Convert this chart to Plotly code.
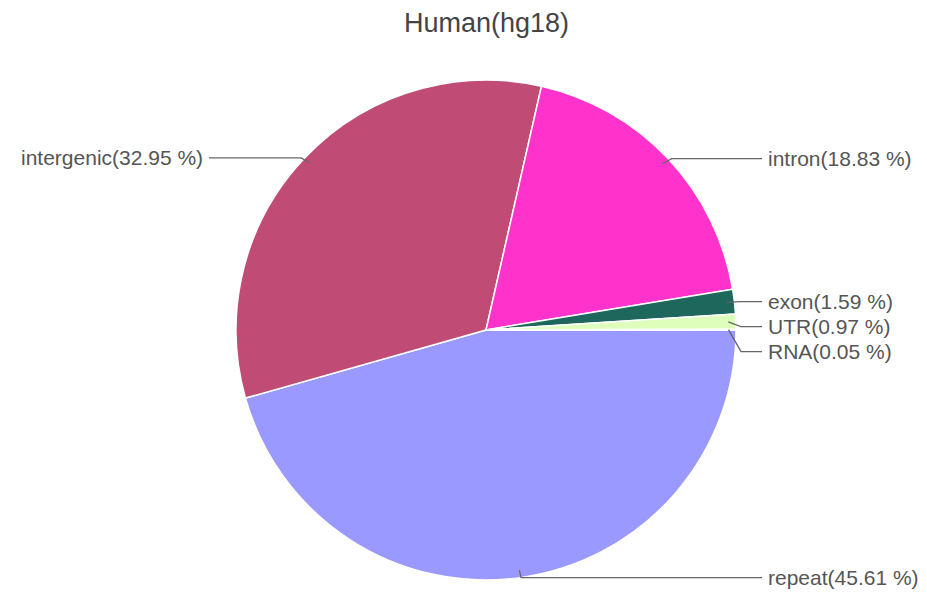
import numpy as np
import plotly.graph_objects as go

# ---- data ----
categories = ["repeat", "intergenic", "intron", "exon", "UTR", "RNA"]
percentages = [45.61, 32.95, 18.83, 1.59, 0.97, 0.05]
colors = ["#9999ff", "#c04c75", "#ff33cc", "#1d675c", "#ddffbb", "#99cc66"]
title_text = "Human(hg18)"

# ---- layout constants (pixels) ----
W, H = 927, 597
CX, CY, R = 486, 330, 250
RIGHT_LABEL_X = 766
LEFT_LABEL_X = 205
MIN_GAP = 25
FONT = "Liberation Sans, Arial, sans-serif"

def px(x):
    return x / W

def py(y):
    return 1 - y / H

fig = go.Figure()
fig.add_trace(go.Pie(
    labels=categories,
    values=percentages,
    sort=False,
    direction="clockwise",
    rotation=90,
    marker=dict(colors=colors, line=dict(color="white", width=1.5)),
    textinfo="none",
    hoverinfo="label+percent",
    showlegend=False,
    domain=dict(x=[px(CX - R), px(CX + R)], y=[py(CY + R), py(CY - R)]),
))

# compute mid-angles (clockwise from east, screen coords y down)
vals = np.array(percentages, dtype=float)
frac = vals / vals.sum()
cum = np.cumsum(frac) - frac / 2
ang = cum * 2 * np.pi
dx, dy = np.cos(ang), np.sin(ang)
nat_y = CY + R * dy

# label y with de-overlap per side
label_y = nat_y.copy()
for side in (1, -1):
    idx = [i for i in range(len(vals)) if (1 if dx[i] >= 0 else -1) == side]
    idx.sort(key=lambda i: nat_y[i])
    prev = -1e9
    for i in idx:
        label_y[i] = max(nat_y[i], prev + MIN_GAP)
        prev = label_y[i]

shapes = []
annotations = []
for i, name in enumerate(categories):
    side = 1 if dx[i] >= 0 else -1
    x0, y0 = CX + 0.97 * R * dx[i], CY + 0.97 * R * dy[i]
    ex = CX + 1.02 * R * dx[i]
    ey = label_y[i]
    lx = RIGHT_LABEL_X if side == 1 else LEFT_LABEL_X
    xend = lx - 4 * side
    path = f"M {px(x0)} {py(y0)} L {px(ex)} {py(ey)} L {px(xend)} {py(ey)}"
    shapes.append(dict(type="path", path=path, xref="paper", yref="paper",
                       line=dict(color="#666666", width=1.3)))
    annotations.append(dict(
        x=px(lx), y=py(ey), xref="paper", yref="paper",
        text=f"{name}({percentages[i]:.2f} %)", showarrow=False,
        xanchor="left" if side == 1 else "right", yanchor="middle",
        font=dict(family=FONT, size=21, color="#555555"),
    ))

annotations.append(dict(
    x=px(CX), y=py(23), xref="paper", yref="paper", text=title_text,
    showarrow=False, xanchor="center", yanchor="middle",
    font=dict(family=FONT, size=27, color="#444444"),
))

fig.update_layout(
    width=W, height=H,
    margin=dict(l=0, r=0, t=0, b=0),
    paper_bgcolor="white", plot_bgcolor="white",
    shapes=shapes, annotations=annotations,
)
fig.write_html("out.html")
